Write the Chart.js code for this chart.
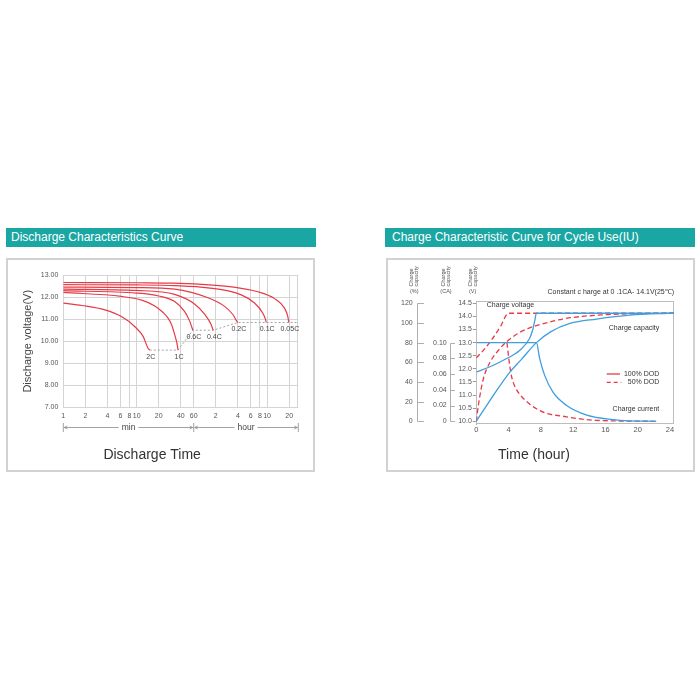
<!DOCTYPE html>
<html>
<head>
<meta charset="utf-8">
<script src="https://cdn.jsdelivr.net/npm/chart.js@4.4.0/dist/chart.umd.min.js"></script>
<style>
  body { margin: 0; background: #fff; width: 700px; height: 700px; position: relative; font-family: 'Liberation Sans', Arial, sans-serif; }
  .bar { position: absolute; top: 228px; height: 19px; width: 310px; background: #1aa7a3; color: #fff; font-size: 12px; line-height: 19px; box-sizing: border-box; white-space: nowrap; }
  .box { position: absolute; top: 258px; width: 309px; height: 214px; border: 2px solid #d2d2d2; box-sizing: border-box; }
  .holder { position: absolute; top: 258px; width: 309px; height: 214px; }
</style>
</head>
<body>
<div class="bar" style="left:6px; padding-left:5px">Discharge Characteristics Curve</div>
<div class="bar" style="left:385px; padding-left:7px">Charge Characteristic Curve for Cycle Use(IU)</div>
<div class="box" style="left:6px"></div>
<div class="box" style="left:386px"></div>
<div class="holder" style="left:6px"><canvas id="dischargeChart"></canvas></div>
<div class="holder" style="left:386px"><canvas id="chargeChart"></canvas></div>

<script>
// ---------- discharge curves: [minutes, volts] ----------
const rateLabels = ['2C', '1C', '0.6C', '0.4C', '0.2C', '0.1C', '0.05C'];
const curve2C   = [[1, 11.73], [1.8, 11.62], [3.7, 11.42], [6.2, 11.12], [9.4, 10.67], [12.3, 10.21], [14.3, 9.68], [15.1, 9.6]];
const curve1C   = [[1, 12.21], [6.2, 12.03], [12, 11.85], [17.7, 11.6], [23, 11.3], [26.8, 11.05], [30, 10.75], [33, 10.3], [35.5, 9.9], [36.7, 9.6]];
const curve06C  = [[1, 12.29], [10, 12.18], [20, 12.05], [33, 11.8], [45, 11.35], [53, 10.9], [57, 10.6], [58.5, 10.5]];
const curve04C  = [[1, 12.36], [10, 12.3], [33, 12.12], [62, 11.68], [85, 11.22], [104, 10.75], [109, 10.55], [111, 10.5]];
const curve02C  = [[1, 12.45], [10, 12.43], [33, 12.36], [94, 11.97], [158, 11.58], [206, 11.2], [233, 10.9], [240, 10.85]];
const curve01C  = [[1, 12.56], [10, 12.55], [33, 12.52], [94, 12.42], [267, 12.1], [405, 11.73], [526, 11.27], [570, 11.0], [585, 10.85]];
const curve005C = [[1, 12.66], [10, 12.65], [33, 12.63], [158, 12.5], [450, 12.24], [760, 11.93], [1037, 11.5], [1145, 11.15], [1190, 10.85]];
const cutoffLine = [[15.1, 9.6], [36.7, 9.6], [58.5, 10.5], [111, 10.5], [240, 10.85], [1600, 10.85]];

const minuteTicks = [1, 2, 4, 6, 8, 10, 20, 40, 60, 120, 240, 360, 480, 600, 1200];
const minuteTickLabels = ['1', '2', '4', '6', '8', '10', '20', '40', '60', '2', '4', '6', '8', '10', '20'];
const dischargeVoltTicks = [7, 8, 9, 10, 11, 12, 13];

// ---------- charge curves: [hours, value] ----------
const voltage100  = [[0, 11.88], [1.7, 12.08], [3.35, 12.33], [5.4, 12.71], [6.6, 13.16], [7.0, 13.5], [7.25, 13.85], [7.45, 14.12], [24.5, 14.12]];
const capacity100 = [[0, 0], [2.14, 26.7], [4.16, 50], [5.6, 63], [7.45, 80], [9.2, 91], [11.6, 99.5], [14.9, 104], [19, 108], [24.5, 110]];
const current100  = [[0, 0.1], [7.45, 0.1], [7.85, 0.08], [8.45, 0.059], [9.5, 0.037], [11.2, 0.02], [13.7, 0.0077], [16.9, 0.002], [19, 0.0005], [22.3, 0]];
const voltage50   = [[0, 12.42], [1, 12.75], [2, 13.15], [3, 13.62], [3.98, 14.12], [24.5, 14.12]];
const capacity50  = [[0, 0], [0.25, 16], [0.87, 43], [1.7, 60], [2.93, 74], [3.77, 81], [5.1, 89], [6.6, 95], [9.1, 101], [10.7, 104], [12.9, 106.5], [16.3, 108.5], [20.4, 109.5], [24.5, 110]];
const current50   = [[3.8, 0.1], [4.05, 0.078], [4.35, 0.058], [4.75, 0.045], [5.4, 0.034], [6.6, 0.022], [7.45, 0.016], [8.7, 0.01], [10.7, 0.0065], [12.9, 0.003], [14.9, 0.0012], [18.4, 0.0003], [22.3, 0]];

const hourTicks = [0, 4, 8, 12, 16, 20, 24];
const voltTicks = [10, 10.5, 11, 11.5, 12, 12.5, 13, 13.5, 14, 14.5];
const caTicks = [0, 0.02, 0.04, 0.06, 0.08, 0.1];
const pctTicks = [0, 20, 40, 60, 80, 100, 120];

const RED = '#e63b46';
const BLUE = '#3d9ee0';
const FONT = "'Liberation Sans', Arial, sans-serif";
Chart.defaults.font.family = FONT;
Chart.defaults.color = '#555';

// voltage axis range; the CA and % axes are tied to it
const V_MIN = 9.885, V_MAX = 14.588;
const toCA = v => (v - 10) / 30;
const toPct = v => (v - 10) * 120 / 4.5;

const setTicks = arr => scale => { scale.ticks = arr.map(v => ({ value: v })); };

// light frame round the plot area
const frame = {
  id: 'frame',
  beforeDatasetsDraw(chart, args, opts) {
    const { ctx, chartArea: a } = chart;
    ctx.save();
    ctx.strokeStyle = opts.color || '#ccc';
    ctx.lineWidth = 1;
    ctx.strokeRect(Math.round(a.left) + 0.5, Math.round(a.top) + 0.5, Math.round(a.width) - 1, Math.round(a.height) - 1);
    ctx.restore();
  }
};

// ---------- discharge chart ----------
const rateTags = {
  id: 'rateTags',
  afterDatasetsDraw(chart) {
    const ctx = chart.ctx;
    ctx.save();
    ctx.font = '7px ' + FONT;
    ctx.fillStyle = '#444';
    ctx.textAlign = 'center';
    ctx.textBaseline = 'middle';
    rateLabels.forEach((txt, i) => {
      const pts = chart.getDatasetMeta(i).data;
      const p = pts[pts.length - 1];
      ctx.fillText(txt, p.x + 1, p.y + 6.5);
    });
    ctx.restore();
  }
};

const timeSpan = {
  id: 'timeSpan',
  afterDraw(chart) {
    const { ctx, chartArea: a } = chart;
    const sx = chart.scales.x;
    const y = Math.round(a.bottom + 19.5) + 0.5;
    const x0 = sx.getPixelForValue(1), x1 = sx.getPixelForValue(60), x2 = a.right;
    ctx.save();
    ctx.strokeStyle = '#8a8a8a';
    ctx.fillStyle = '#444';
    ctx.lineWidth = 0.8;
    ctx.font = '8.5px ' + FONT;
    ctx.textAlign = 'center';
    ctx.textBaseline = 'middle';
    ctx.beginPath();
    [x0, x1, x2].forEach(px => { ctx.moveTo(px, y - 4.5); ctx.lineTo(px, y + 4.5); });
    const seg = (l, r, txt) => {
      const mid = (l + r) / 2;
      const w = ctx.measureText(txt).width / 2 + 3;
      ctx.moveTo(l + 1, y); ctx.lineTo(mid - w, y);
      ctx.moveTo(mid + w, y); ctx.lineTo(r - 1, y);
      ctx.moveTo(l + 4, y - 1.5); ctx.lineTo(l + 1, y); ctx.lineTo(l + 4, y + 1.5);
      ctx.moveTo(r - 4, y - 1.5); ctx.lineTo(r - 1, y); ctx.lineTo(r - 4, y + 1.5);
      ctx.fillText(txt, mid, y);
    };
    seg(x0, x1, 'min');
    seg(x1, x2, 'hour');
    ctx.stroke();
    ctx.restore();
  }
};

const dischargeCurves = [curve2C, curve1C, curve06C, curve04C, curve02C, curve01C, curve005C];
const dischargeSets = dischargeCurves.map((pts, i) => ({
  label: rateLabels[i],
  data: pts,
  borderColor: RED,
  borderWidth: 1.2,
  pointRadius: 0,
  cubicInterpolationMode: 'monotone',
  fill: false
}));
dischargeSets.push({
  label: 'cut-off',
  data: cutoffLine,
  borderColor: '#9a9a9a',
  borderWidth: 0.9,
  borderDash: [2, 2],
  pointRadius: 0,
  tension: 0,
  fill: false
});

new Chart(document.getElementById('dischargeChart'), {
  type: 'line',
  data: { datasets: dischargeSets },
  options: {
    responsive: true,
    maintainAspectRatio: false,
    animation: false,
    layout: { padding: { left: 0, right: 16.7, top: 17, bottom: 0 } },
    plugins: {
      legend: { display: false },
      tooltip: { enabled: false },
      title: {
        display: true,
        position: 'bottom',
        text: 'Discharge Time',
        color: '#333',
        font: { size: 14, weight: 'normal' },
        padding: { top: 9.1, bottom: 8.6 }
      },
      frame: { color: '#d4d4d4' }
    },
    scales: {
      x: {
        type: 'logarithmic',
        min: 1,
        max: 1600,
        afterBuildTicks: setTicks(minuteTicks),
        afterFit: s => { s.height = 30; },
        ticks: {
          autoSkip: false,
          maxRotation: 0,
          padding: 4,
          font: { size: 7 },
          callback: (v, i) => minuteTickLabels[i]
        },
        grid: { color: '#d4d4d4', drawTicks: false },
        border: { display: false }
      },
      y: {
        min: 7,
        max: 13,
        afterBuildTicks: setTicks(dischargeVoltTicks),
        afterFit: s => { s.width = 57.3; },
        ticks: { padding: 5, font: { size: 7 }, callback: v => v.toFixed(2) },
        grid: { color: '#d4d4d4', drawTicks: false },
        border: { display: true, color: '#d4d4d4' },
        title: {
          display: true,
          text: 'Discharge voltage(V)',
          color: '#444',
          font: { size: 11 },
          padding: { top: 15.4, bottom: 0 }
        }
      }
    }
  },
  plugins: [frame, rateTags, timeSpan]
});

// ---------- charge chart ----------
const chargeDecor = {
  id: 'chargeDecor',
  afterDraw(chart) {
    const { ctx, chartArea: a } = chart;
    ctx.save();
    // bracket style axes for % and CA
    ctx.strokeStyle = '#9a9a9a';
    ctx.lineWidth = 0.8;
    [['yPct', 7.3], ['yCA', 5]].forEach(([id, inset]) => {
      const s = chart.scales[id];
      const xl = Math.round(s.right - inset) + 0.5;
      const ys = s.ticks.map(t => Math.round(s.getPixelForValue(t.value)) + 0.5);
      ctx.beginPath();
      ctx.moveTo(xl, Math.min(...ys));
      ctx.lineTo(xl, Math.max(...ys));
      ys.forEach(y => { ctx.moveTo(xl, y); ctx.lineTo(s.right, y); });
      ctx.stroke();
    });

    // small rotated axis headers
    ctx.fillStyle = '#555';
    [['yPct', -9.7, '(%)'], ['yCA', -9, '(CA)'], ['y', -3.6, '(V)']].forEach(([id, dx, unit]) => {
      const cx = chart.scales[id].right + dx;
      ctx.font = '5.5px ' + FONT;
      ctx.textAlign = 'left';
      ctx.textBaseline = 'middle';
      [['Charge', -2.5], ['capacity', 2.5]].forEach(([txt, off]) => {
        ctx.save();
        ctx.translate(cx + off, a.top - 14.5);
        ctx.rotate(-Math.PI / 2);
        ctx.fillText(txt, 0, 0);
        ctx.restore();
      });
      ctx.textAlign = 'center';
      ctx.fillText(unit, cx, a.top - 10);
    });

    // notes
    ctx.fillStyle = '#333';
    ctx.font = '7px ' + FONT;
    ctx.textBaseline = 'middle';
    ctx.textAlign = 'right';
    ctx.fillText('Constant c harge at 0 .1CA- 14.1V(25\u2103)', a.right, a.top - 9.3);
    const tx = a.right - 14.7;
    ctx.fillText('Charge capacity', tx, a.top + 27.3);
    ctx.fillText('Charge current', tx, a.top + 108.3);
    ctx.fillText('100% DOD', tx, a.top + 73);
    ctx.fillText('50% DOD', tx, a.top + 81.3);
    ctx.textAlign = 'left';
    ctx.fillText('Charge voltage', a.left + 10.4, a.top + 4);

    // legend keys
    ctx.strokeStyle = RED;
    ctx.lineWidth = 1.3;
    ctx.beginPath();
    ctx.moveTo(a.left + 130.4, a.top + 73);
    ctx.lineTo(a.left + 143.7, a.top + 73);
    ctx.stroke();
    ctx.setLineDash([4, 3]);
    ctx.beginPath();
    ctx.moveTo(a.left + 130.4, a.top + 81.3);
    ctx.lineTo(a.left + 145, a.top + 81.3);
    ctx.stroke();
    ctx.restore();
  }
};

const solid = { borderColor: BLUE };
const dashed = { borderColor: RED, borderDash: [5, 3] };
const chargeSets = [
  Object.assign({ label: 'Charge voltage 100% DOD', data: voltage100, yAxisID: 'y' }, solid),
  Object.assign({ label: 'Charge capacity 100% DOD', data: capacity100, yAxisID: 'yPct' }, solid),
  Object.assign({ label: 'Charge current 100% DOD', data: current100, yAxisID: 'yCA' }, solid),
  Object.assign({ label: 'Charge voltage 50% DOD', data: voltage50, yAxisID: 'y' }, dashed),
  Object.assign({ label: 'Charge capacity 50% DOD', data: capacity50, yAxisID: 'yPct' }, dashed),
  Object.assign({ label: 'Charge current 50% DOD', data: current50, yAxisID: 'yCA' }, dashed)
].map(d => Object.assign({ borderWidth: 1.3, pointRadius: 0, cubicInterpolationMode: 'monotone', fill: false }, d));

new Chart(document.getElementById('chargeChart'), {
  type: 'line',
  data: { datasets: chargeSets },
  options: {
    responsive: true,
    maintainAspectRatio: false,
    animation: false,
    layout: { padding: { left: 8, right: 21, top: 43, bottom: 0 } },
    plugins: {
      legend: { display: false },
      tooltip: { enabled: false },
      title: {
        display: true,
        position: 'bottom',
        text: 'Time (hour)',
        color: '#333',
        font: { size: 14, weight: 'normal' },
        padding: { top: 8.3, bottom: 8.6 }
      },
      frame: { color: '#bdbdbd' }
    },
    scales: {
      x: {
        type: 'linear',
        min: 0,
        max: 24.5,
        afterBuildTicks: setTicks(hourTicks),
        afterFit: s => { s.height = 14; },
        ticks: { padding: 1, font: { size: 7.5 }, maxRotation: 0 },
        grid: { display: false, drawTicks: false },
        border: { display: false }
      },
      y: {
        position: 'left',
        weight: 0,
        min: V_MIN,
        max: V_MAX,
        afterBuildTicks: setTicks(voltTicks),
        afterFit: s => { s.width = 21.3; },
        ticks: { padding: 1, font: { size: 7 }, callback: v => v.toFixed(1) },
        grid: { drawOnChartArea: false, tickLength: 3.5, color: '#999' },
        border: { display: true, color: '#aaa' }
      },
      yCA: {
        position: 'left',
        weight: 1,
        min: toCA(V_MIN),
        max: toCA(V_MAX),
        afterBuildTicks: setTicks(caTicks),
        afterFit: s => { s.width = 31; },
        ticks: { padding: 8.3, font: { size: 7 }, callback: v => (v === 0 ? '0' : v.toFixed(2)) },
        grid: { display: false, drawTicks: false },
        border: { display: false }
      },
      yPct: {
        position: 'left',
        weight: 2,
        min: toPct(V_MIN),
        max: toPct(V_MAX),
        afterBuildTicks: setTicks(pctTicks),
        afterFit: s => { s.width = 30; },
        ticks: { padding: 11.3, font: { size: 7 }, callback: v => String(v) },
        grid: { display: false, drawTicks: false },
        border: { display: false }
      }
    }
  },
  plugins: [frame, chargeDecor]
});
</script>
</body>
</html>
